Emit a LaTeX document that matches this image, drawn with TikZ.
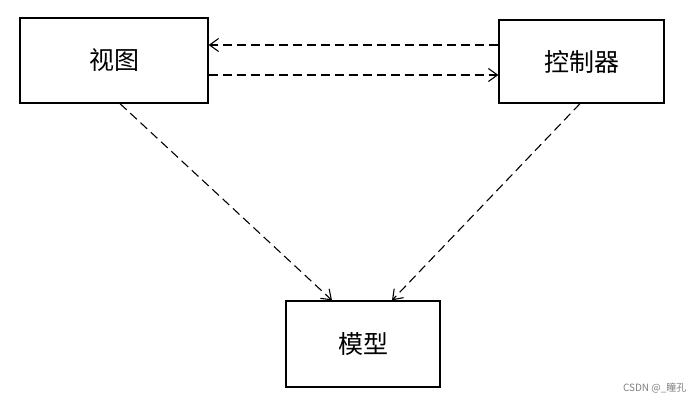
\documentclass[tikz,border=0pt]{standalone}
\usepackage{fontspec}
\newfontfamily\cjk{Noto Sans CJK SC}
\usetikzlibrary{arrows.meta}
\tikzset{
 box/.style={draw, line width=1.3pt, inner sep=0pt, font=\cjk\fontsize{25}{30}\selectfont},
 conn/.style={draw, dashed, dash pattern=on 9pt off 5pt, line width=1.1pt, -{Straight Barb[length=9pt,width=13pt]}}
}
\begin{document}
\begin{tikzpicture}[x=1pt,y=-1pt]
\useasboundingbox (0,0) rectangle (695,403);
\node[box, minimum width=188pt, minimum height=85pt] (view) at (114,60.5) {视图};
\node[box, minimum width=165pt, minimum height=83pt] (ctrl) at (581.5,61.5) {控制器};
\node[box, minimum width=154pt, minimum height=86pt] (model) at (363,344) {模型};
\draw[conn] (ctrl.west |- 0,45) -- (view.east |- 0,45);
\draw[conn] (view.east |- 0,75) -- (ctrl.west |- 0,75);
\draw[conn] (view.south -| 120,0) -- (model.north -| 332,0);
\draw[conn] (ctrl.south -| 580,0) -- (model.north -| 392,0);
\node[text=gray, font=\cjk\fontsize{10}{12}\selectfont, anchor=east] (wm) at (690,388) {CSDN @\_瞳孔};
\end{tikzpicture}
\end{document}
